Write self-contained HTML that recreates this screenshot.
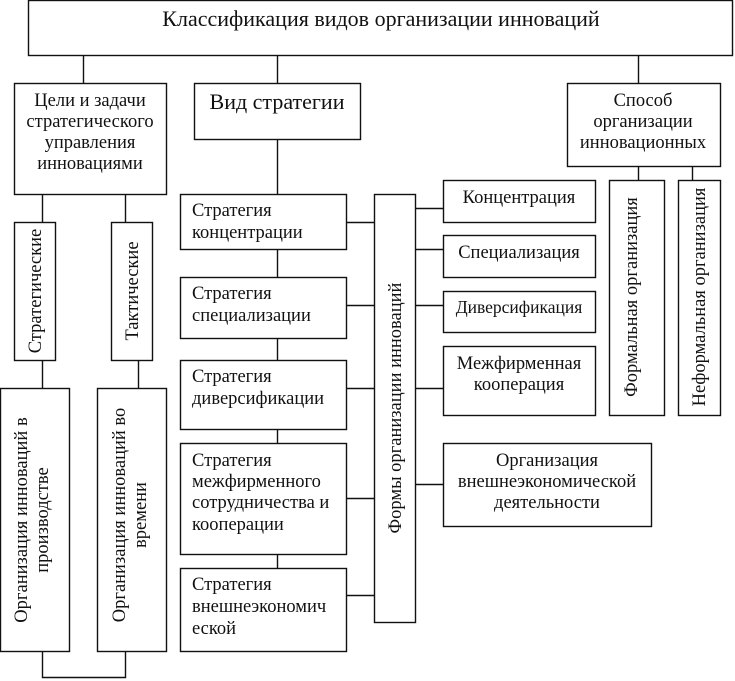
<!DOCTYPE html>
<html><head><meta charset="utf-8"><style>
html,body{margin:0;padding:0;background:#fff;}
svg{display:block;}
text{font-family:"Liberation Serif","DejaVu Serif",serif;fill:#111;font-size:18.5px;}
</style></head><body>
<svg width="735" height="681" viewBox="0 0 735 681" xmlns="http://www.w3.org/2000/svg">
<g fill="none" stroke="#111" stroke-width="1.4">
<rect x="28.5" y="0.5" width="704" height="55"/>
<rect x="14.5" y="83.5" width="152" height="111"/>
<rect x="194.5" y="83.5" width="166" height="56"/>
<rect x="567.5" y="83.5" width="153" height="83"/>
<rect x="14.5" y="222.5" width="41" height="138"/>
<rect x="111.5" y="222.5" width="41" height="138"/>
<rect x="0.5" y="388.5" width="69" height="263"/>
<rect x="97.5" y="388.5" width="69" height="263"/>
<rect x="180.5" y="194.5" width="166" height="55"/>
<rect x="180.5" y="277.5" width="166" height="61"/>
<rect x="180.5" y="360.5" width="166" height="69"/>
<rect x="180.5" y="443.5" width="166" height="111"/>
<rect x="180.5" y="568.5" width="166" height="83"/>
<rect x="374.5" y="194.5" width="41" height="428"/>
<rect x="443.5" y="180.5" width="152" height="42"/>
<rect x="443.5" y="235.5" width="152" height="42"/>
<rect x="443.5" y="291.5" width="152" height="41"/>
<rect x="443.5" y="346.5" width="152" height="69"/>
<rect x="443.5" y="443.5" width="208" height="83"/>
<rect x="609.5" y="180.5" width="55" height="235"/>
<rect x="678.5" y="180.5" width="42" height="235"/>
<path d="M83.5 56V83 M277.5 56V83 M638.5 56V83 M277.5 140V194 M277.5 250V277 M277.5 339V360 M277.5 430V443 M277.5 555V568
M42.5 195V222 M125.5 195V222 M42.5 361V388 M138.5 361V388 M42.5 652V677.5H125.5V652
M347 222.5H374 M347 305.5H374 M347 388.5H374 M347 498.5H374 M347 595.5H374
M416 208.5H443 M416 249.5H443 M416 305.5H443 M416 388.5H443 M416 484.5H443
M638.5 167V180 M692.5 167V180"/>
</g>
<text x="381" y="26" text-anchor="middle" style="font-size:22px">Классификация видов организации инноваций</text>
<g text-anchor="middle">
<text x="90" y="106">Цели и задачи</text>
<text x="90" y="127">стратегического</text>
<text x="90" y="148">управления</text>
<text x="90" y="169">инновациями</text>
<text x="277" y="109" style="font-size:22px">Вид стратегии</text>
<text x="643" y="106">Способ</text>
<text x="643" y="127">организации</text>
<text x="643" y="148">инновационных</text>
<text x="519" y="203">Концентрация</text>
<text x="519" y="258">Специализация</text>
<text x="519" y="313" style="font-size:17.5px">Диверсификация</text>
<text x="519" y="369">Межфирменная</text>
<text x="519" y="390">кооперация</text>
<text x="547" y="466">Организация</text>
<text x="547" y="487">внешнеэкономической</text>
<text x="547" y="508">деятельности</text>
</g>
<g>
<text x="192" y="216">Стратегия</text>
<text x="192" y="238">концентрации</text>
<text x="192" y="299">Стратегия</text>
<text x="192" y="321">специализации</text>
<text x="192" y="382">Стратегия</text>
<text x="192" y="404">диверсификации</text>
<text x="192" y="466">Стратегия</text>
<text x="192" y="487">межфирменного</text>
<text x="192" y="508">сотрудничества и</text>
<text x="192" y="530">кооперации</text>
<text x="192" y="590">Стратегия</text>
<text x="192" y="612">внешнеэкономич</text>
<text x="192" y="634">еской</text>
</g>
<g text-anchor="middle">
<text transform="translate(41,291) rotate(-90)">Стратегические</text>
<text transform="translate(138,291) rotate(-90)">Тактические</text>
<text transform="translate(27,520) rotate(-90)">Организация инноваций в</text>
<text transform="translate(48,520) rotate(-90)">производстве</text>
<text transform="translate(125,515) rotate(-90)">Организация инноваций во</text>
<text transform="translate(146,515) rotate(-90)">времени</text>
<text transform="translate(401,408) rotate(-90)">Формы организации инноваций</text>
<text transform="translate(637,297) rotate(-90)">Формальная организация</text>
<text transform="translate(705,297) rotate(-90)">Неформальная организация</text>
</g>
</svg>
</body></html>
